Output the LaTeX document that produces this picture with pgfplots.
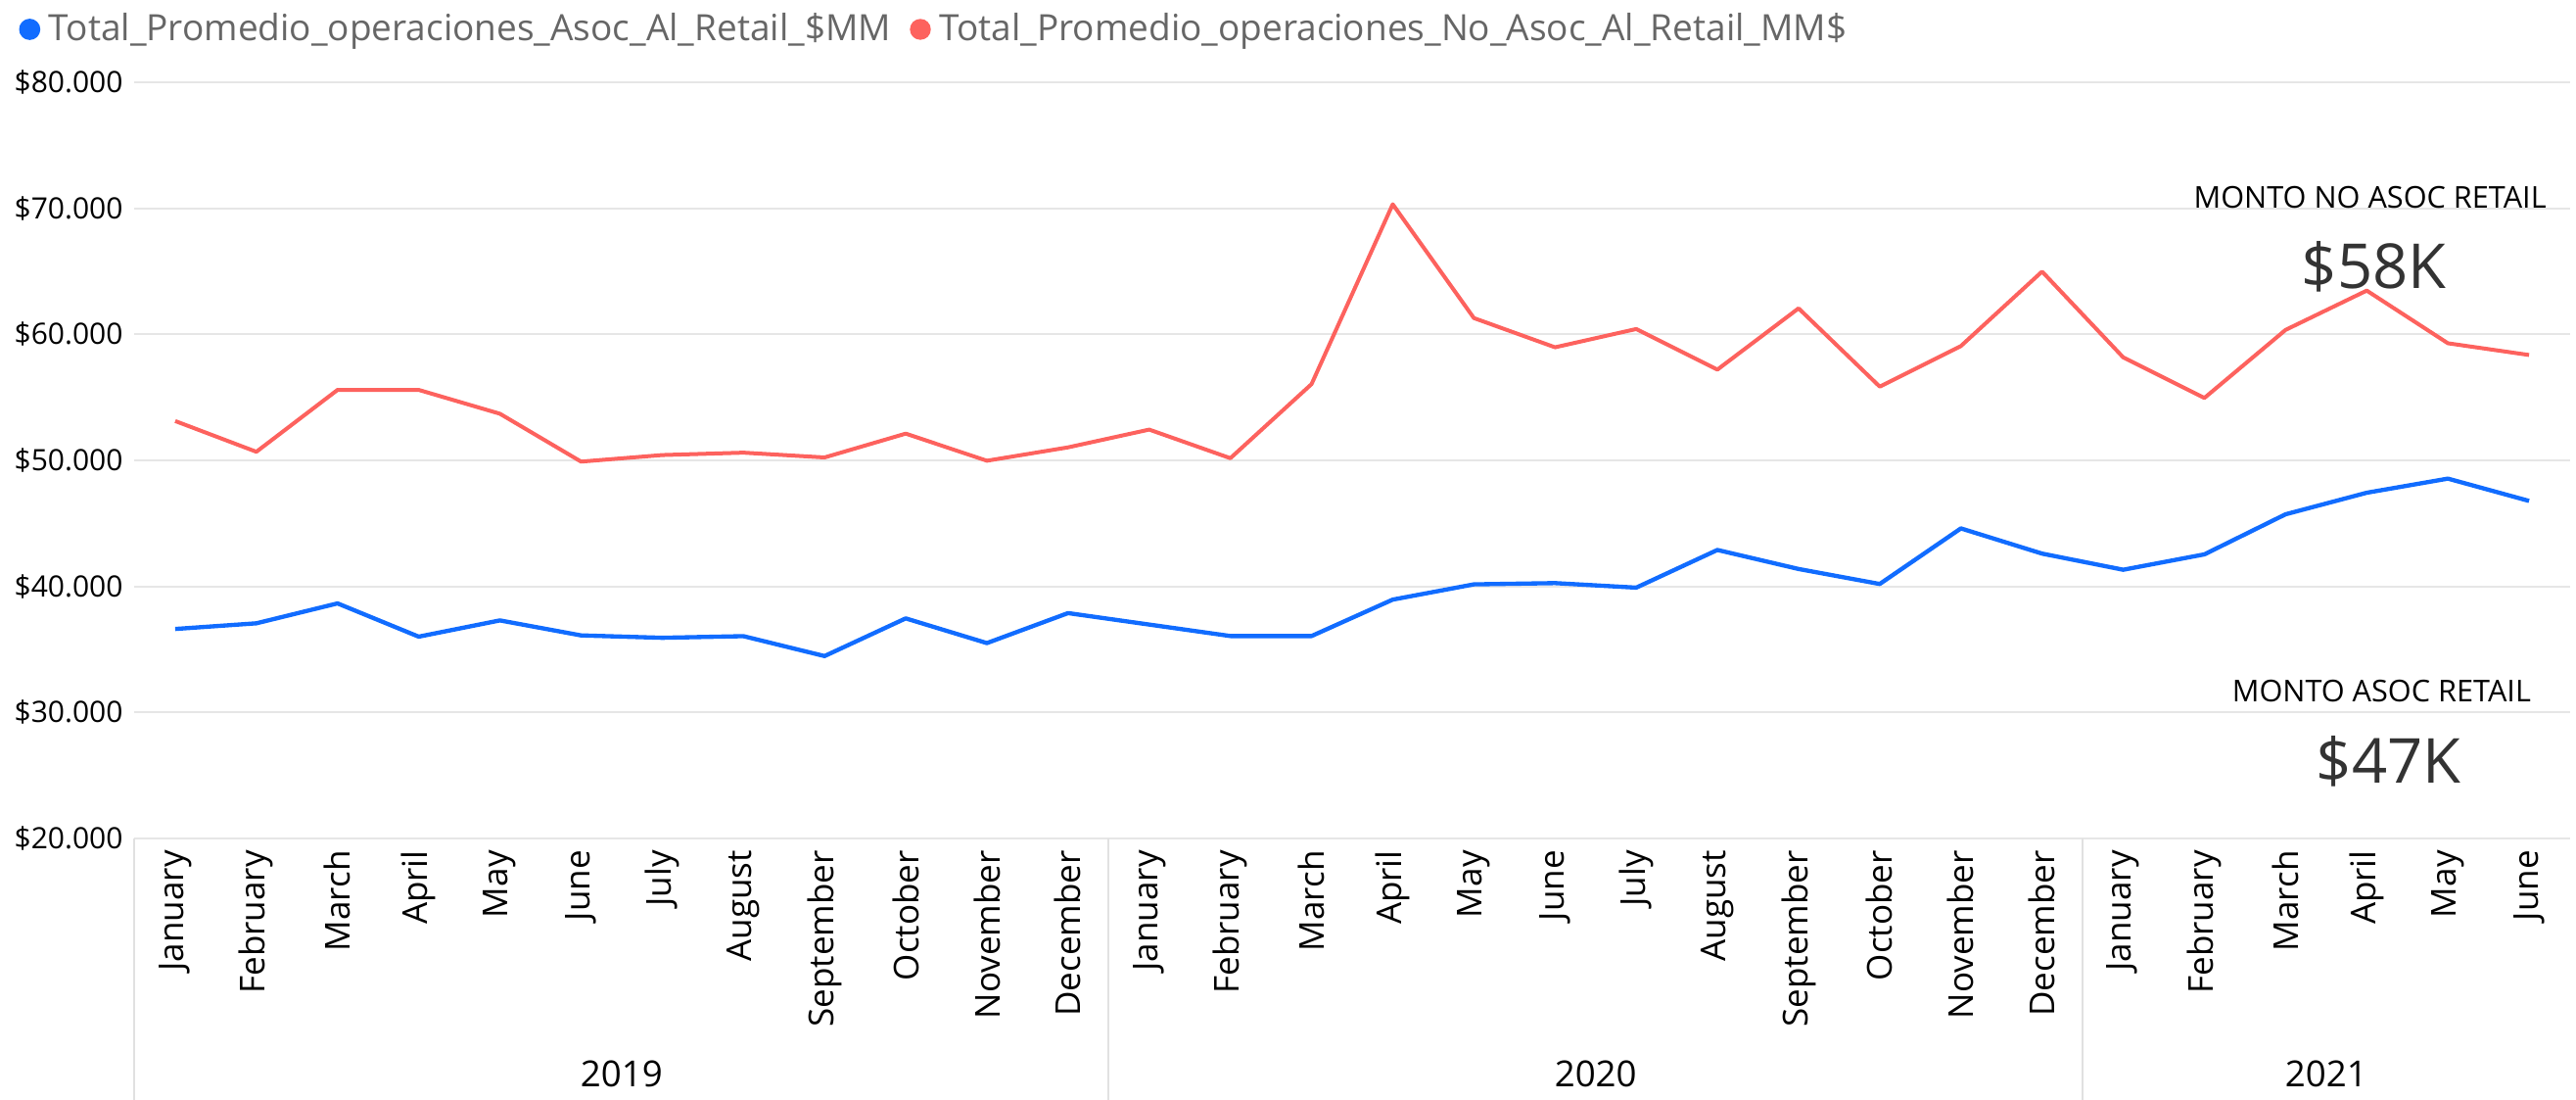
\documentclass[border=0pt]{standalone}
\usepackage{fontspec}
\setmainfont{Open Sans}
\usepackage{pgfplots}
\usepackage{pgfplotstable}
\pgfplotsset{compat=1.18}
\definecolor{blueC}{RGB}{17,108,255}
\definecolor{redC}{RGB}{253,98,94}
\definecolor{gridC}{RGB}{230,230,230}
\definecolor{sepC}{RGB}{225,225,225}
\definecolor{legC}{RGB}{102,102,102}
\definecolor{numC}{RGB}{51,51,51}

\pgfplotstableread{
x asoc noasoc
0  36620 53120
1  37070 50680
2  38650 55590
3  36010 55590
4  37300 53700
5  36110 49900
6  35920 50420
7  36050 50610
8  34470 50230
9  37460 52120
10 35500 49970
11 37880 51030
12 36970 52440
13 36060 50170
14 36060 56050
15 38950 70320
16 40160 61290
17 40260 58970
18 39900 60420
19 42890 57200
20 41380 62060
21 40190 55850
22 44600 59070
23 42600 64980
24 41320 58170
25 42540 54950
26 45720 60350
27 47430 63470
28 48550 59290
29 46780 58360
}\datatable

\begin{document}
\begin{tikzpicture}
\begin{axis}[
  name=ax,
  scale only axis,
  width=746.1pt, height=231.6pt,
  xmin=-0.5, xmax=29.5, ymin=20000, ymax=80000,
  clip=false,
  axis line style={draw=none},
  major tick length=0pt,
  ytick={20000,30000,40000,50000,60000,70000,80000},
  ymajorgrids,
  grid style={gridC, line width=0.6pt},
  scaled y ticks=false,
  /pgf/number format/fixed,
  /pgf/number format/precision=0,
  /pgf/number format/1000 sep={.},
  /pgf/number format/assume math mode=true,
  yticklabel={\$\pgfmathprintnumber{\tick}},
  yticklabel style={font=\fontsize{9}{11}\selectfont, anchor=east, inner sep=0pt},
  yticklabel shift=3.4pt,
  xtick={0,...,29},
  xticklabels={January,February,March,April,May,June,July,August,September,October,November,December,January,February,March,April,May,June,July,August,September,October,November,December,January,February,March,April,May,June},
  xticklabel style={rotate=90, anchor=east, inner sep=0pt, font=\fontsize{10.5}{12}\selectfont},
  xticklabel shift=3.5pt,
  legend columns=-1,
  legend style={draw=none, fill=none, inner sep=0pt, at={(0,1)}, anchor=west,
    xshift=-35.6pt, yshift=16.2pt,
    nodes={inner sep=0pt, text=legC, font=\fontsize{11.1}{13}\selectfont},
    /tikz/every odd column/.append style={column sep=2.6pt},
    /tikz/every even column/.append style={column sep=5.8pt}},
  legend image code/.code={\fill[#1] (2.6pt,0pt) circle (2.6pt);},
]
\addplot[blueC, line width=1.3pt, line join=round] table[x=x, y=asoc]{\datatable};
\addlegendentry{Total\_Promedio\_operaciones\_Asoc\_Al\_Retail\_\$MM}
\addplot[redC, line width=1.2pt, line join=round] table[x=x, y=noasoc]{\datatable};
\addlegendentry{Total\_Promedio\_operaciones\_No\_Asoc\_Al\_Retail\_MM\$}

\draw[sepC, line width=0.6pt] (axis cs:-0.5,20000) -- ++(0pt,-80.1pt);
\draw[sepC, line width=0.6pt] (axis cs:11.5,20000) -- ++(0pt,-80.1pt);
\draw[sepC, line width=0.6pt] (axis cs:23.5,20000) -- ++(0pt,-80.1pt);

\node[anchor=base, inner sep=0pt, yshift=-76.2pt, font=\fontsize{11}{13}\selectfont] at (axis cs:5.5,20000) {2019};
\node[anchor=base, inner sep=0pt, yshift=-76.2pt, font=\fontsize{11}{13}\selectfont] at (axis cs:17.5,20000) {2020};
\node[anchor=base, inner sep=0pt, yshift=-76.2pt, font=\fontsize{11}{13}\selectfont] at (axis cs:26.5,20000) {2021};

\node[anchor=base east, inner sep=0pt, font=\fontsize{9.2}{11}\selectfont] at (axis cs:29.22,70000) {MONTO NO ASOC RETAIL};
\node[anchor=base, inner sep=0pt, text=numC, font=\fontsize{19}{22}\selectfont] at (axis cs:27.09,63600) {\$58K};
\node[anchor=base east, inner sep=0pt, font=\fontsize{9.2}{11}\selectfont] at (axis cs:29.03,30820) {MONTO ASOC RETAIL};
\node[anchor=base, inner sep=0pt, text=numC, font=\fontsize{19}{22}\selectfont] at (axis cs:27.27,24370) {\$47K};
\end{axis}
\pgfresetboundingbox
\path[use as bounding box] ([xshift=-41.25pt,yshift=-80.1pt]ax.south west) rectangle ([xshift=1.95pt,yshift=25.2pt]ax.north east);
\end{tikzpicture}
\end{document}
